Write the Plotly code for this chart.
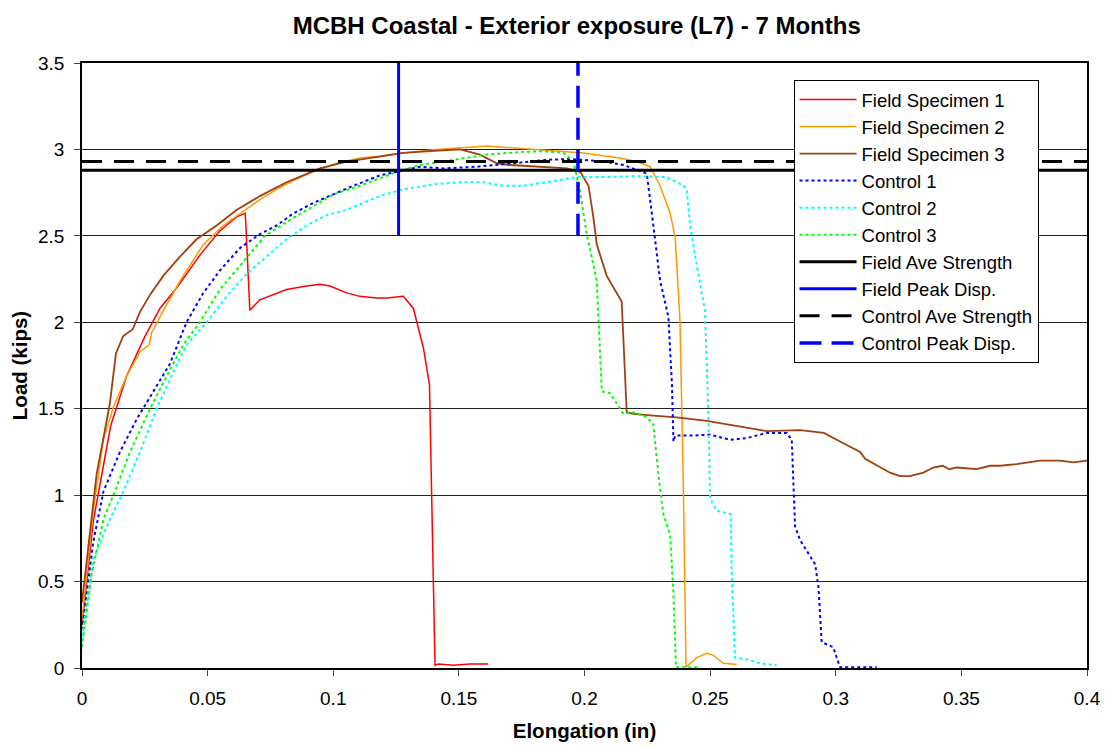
import plotly.graph_objects as go

# ---------------- data ----------------
fs1_x = [0, 0.0045, 0.0114, 0.0178, 0.0251, 0.031, 0.0377, 0.047, 0.0549, 0.0615, 0.065, 0.0668,
         0.0708, 0.0761, 0.0814, 0.0894, 0.0947, 0.0987, 0.1053, 0.1106, 0.1172, 0.1213, 0.1279,
         0.1319, 0.1359, 0.1383, 0.1392, 0.1405, 0.1419, 0.1478, 0.1544, 0.1617]
fs1_y = [0.245, 0.85, 1.40, 1.69, 1.92, 2.08, 2.20, 2.39, 2.53, 2.61, 2.63, 2.07,
         2.13, 2.16, 2.19, 2.21, 2.22, 2.21, 2.17, 2.15, 2.14, 2.14, 2.15,
         2.08, 1.85, 1.64, 1.00, 0.016, 0.023, 0.016, 0.023, 0.023]

fs2_x = [0, 0.0045, 0.0085, 0.0125, 0.0178, 0.0231, 0.0268, 0.0277, 0.031, 0.039, 0.043, 0.0483,
         0.0562, 0.0629, 0.0708, 0.0788, 0.0841, 0.0934, 0.1013, 0.1106, 0.1186, 0.1279, 0.1412,
         0.1611, 0.1704, 0.1810, 0.1995, 0.2141, 0.2208, 0.2261, 0.2301, 0.2341, 0.2361, 0.2380,
         0.2394, 0.2404, 0.2447, 0.2487, 0.2513, 0.2553, 0.2606]
fs2_y = [0.28, 0.91, 1.32, 1.51, 1.69, 1.83, 1.87, 1.94, 2.03, 2.24, 2.33, 2.45,
         2.56, 2.63, 2.71, 2.78, 2.82, 2.88, 2.92, 2.95, 2.96, 2.98, 3.00,
         3.02, 3.01, 3.00, 2.98, 2.95, 2.93, 2.90, 2.79, 2.63, 2.49, 2.01,
         1.00, 0.005, 0.06, 0.085, 0.073, 0.027, 0.02]

fs3_x = [0, 0.0058, 0.0111, 0.0135, 0.0164, 0.0202, 0.0231, 0.0271, 0.0324, 0.039, 0.0456, 0.0536,
         0.0615, 0.0708, 0.0814, 0.0947, 0.1053, 0.1186, 0.1279, 0.1385, 0.1505, 0.1584, 0.1651,
         0.1704, 0.1810, 0.1930, 0.1983, 0.2016, 0.2035, 0.2049, 0.2088, 0.2148, 0.2168, 0.2194,
         0.2274, 0.2367, 0.2487, 0.2606, 0.2726, 0.2858, 0.2953, 0.3030, 0.3097, 0.3117, 0.3176,
         0.3216, 0.3256, 0.3295, 0.3349, 0.3388, 0.3426, 0.3452, 0.3482, 0.3561, 0.3614, 0.3654,
         0.3720, 0.3813, 0.3893, 0.3946, 0.4002]
fs3_y = [0.38, 1.12, 1.53, 1.82, 1.92, 1.96, 2.06, 2.16, 2.27, 2.38, 2.48, 2.56,
         2.65, 2.73, 2.81, 2.89, 2.93, 2.96, 2.98, 2.99, 3.00, 2.97, 2.92,
         2.91, 2.90, 2.89, 2.87, 2.79, 2.61, 2.45, 2.27, 2.12, 1.48, 1.47,
         1.46, 1.45, 1.43, 1.40, 1.37, 1.376, 1.36, 1.30, 1.25, 1.21, 1.16,
         1.13, 1.11, 1.11, 1.13, 1.16, 1.17, 1.15, 1.16, 1.15, 1.17, 1.17,
         1.18, 1.20, 1.20, 1.19, 1.20]

c1_x = [0, 0.0045, 0.0085, 0.0151, 0.0218, 0.0284, 0.035, 0.0416, 0.0483, 0.0549, 0.0629, 0.0708,
        0.0775, 0.0841, 0.0920, 0.1, 0.108, 0.1186, 0.1253, 0.1346, 0.1439, 0.1571, 0.1717,
        0.1850, 0.1943, 0.2075, 0.2155, 0.2248, 0.2274, 0.2301, 0.2334, 0.2348, 0.2354, 0.2361,
        0.2433, 0.2500, 0.2579, 0.2646, 0.2726, 0.2805, 0.2825, 0.2838, 0.2858, 0.2918, 0.2931,
        0.2944, 0.2990, 0.3017, 0.3163]
c1_y = [0.22, 0.73, 1.02, 1.25, 1.44, 1.60, 1.76, 2.00, 2.17, 2.30, 2.43, 2.51,
        2.56, 2.63, 2.69, 2.74, 2.79, 2.85, 2.87, 2.90, 2.89, 2.90, 2.92,
        2.94, 2.945, 2.93, 2.91, 2.86, 2.56, 2.24, 2.03, 1.64, 1.31, 1.345,
        1.345, 1.35, 1.32, 1.33, 1.36, 1.36, 1.32, 0.82, 0.74, 0.60, 0.47,
        0.15, 0.12, 0.005, 0.005]

c2_x = [0, 0.0045, 0.0111, 0.0158, 0.0231, 0.0297, 0.0363, 0.0416, 0.0496, 0.0576, 0.0655, 0.0735,
        0.0814, 0.0894, 0.0973, 0.1053, 0.1186, 0.1279, 0.1412, 0.1492, 0.1598, 0.1677, 0.1757,
        0.1850, 0.1969, 0.2075, 0.2208, 0.2327, 0.2394, 0.2407, 0.2420, 0.2447, 0.2480, 0.2493,
        0.2500, 0.2526, 0.2582, 0.2586, 0.2599, 0.2646, 0.2699, 0.2765]
c2_y = [0.18, 0.63, 0.86, 1.00, 1.25, 1.50, 1.71, 1.87, 2.00, 2.15, 2.28, 2.38,
        2.48, 2.56, 2.62, 2.65, 2.73, 2.77, 2.80, 2.81, 2.81, 2.79, 2.79,
        2.81, 2.84, 2.84, 2.845, 2.84, 2.79, 2.77, 2.56, 2.33, 2.06, 1.46,
        0.98, 0.91, 0.89, 0.54, 0.06, 0.05, 0.027, 0.016]

c3_x = [0, 0.0038, 0.0085, 0.0125, 0.0191, 0.0271, 0.0337, 0.0403, 0.0469, 0.0549, 0.0642, 0.0728,
        0.0814, 0.0894, 0.1, 0.1106, 0.1186, 0.1253, 0.1346, 0.1478, 0.1611, 0.1744, 0.1837,
        0.1916, 0.1956, 0.1983, 0.2009, 0.2049, 0.2059, 0.2069, 0.2102, 0.2128, 0.2155, 0.2195,
        0.2248, 0.2274, 0.2294, 0.2314, 0.2341, 0.2354, 0.2364, 0.2460]
c3_y = [0.12, 0.54, 0.86, 1.00, 1.25, 1.50, 1.69, 1.87, 2.00, 2.19, 2.35, 2.50,
        2.58, 2.65, 2.74, 2.79, 2.835, 2.87, 2.91, 2.94, 2.97, 2.985, 2.99,
        2.98, 2.93, 2.75, 2.51, 2.24, 1.92, 1.60, 1.59, 1.53, 1.47, 1.48,
        1.45, 1.41, 1.12, 0.89, 0.77, 0.43, 0.005, 0.005]

x_range = [0, 0.4]
y_range = [0, 3.5]
field_ave_strength = 2.88
control_ave_strength = 2.93
field_peak_disp = 0.126
control_peak_disp = 0.1974
peak_line_y = [2.5, 3.5]

FONT = "Arial, 'Liberation Sans', Helvetica, sans-serif"

fig = go.Figure()

def add(name, x, y, color, width, dash="solid"):
    fig.add_trace(go.Scatter(x=x, y=y, mode="lines", name=name, legendgroup=name,
                             line=dict(color=color, width=width, dash=dash)))

add("Field Specimen 1", fs1_x, fs1_y, "#FF0000", 1.5)
add("Field Specimen 2", fs2_x, fs2_y, "#FF9900", 1.5)
add("Field Specimen 3", fs3_x, fs3_y, "#A0400F", 1.8)
add("Control 1", c1_x, c1_y, "#0000FF", 2, "3px,3px")
add("Control 2", c2_x, c2_y, "#00FFFF", 2, "3px,3px")
add("Control 3", c3_x, c3_y, "#00FF00", 2, "3px,3px")
add("Field Ave Strength", x_range, [field_ave_strength] * 2, "#000000", 3)
add("Field Peak Disp.", [field_peak_disp] * 2, peak_line_y, "#0000FF", 3)
add("Control Ave Strength", x_range, [control_ave_strength] * 2, "#000000", 3, "20px,12px")
add("Control Peak Disp.", [control_peak_disp] * 2, peak_line_y, "#0000FF", 3.5, "22px,10px")

# page body has an 8px default margin, so the figure is 8px smaller and margins shifted
fig.update_layout(
    width=1100, height=740,
    margin=dict(l=74, r=21, t=55, b=80, autoexpand=False),
    paper_bgcolor="white", plot_bgcolor="white",
    font=dict(family=FONT, size=18.5, color="black"),
    title=dict(text="<b>MCBH Coastal - Exterior exposure (L7) - 7 Months</b>",
               x=0.517, xref="container", xanchor="center",
               y=0.976, yref="container", yanchor="middle",
               font=dict(family=FONT, size=24, color="black")),
    legend=dict(x=0.708, y=0.972, xanchor="left", yanchor="top",
                bgcolor="white", bordercolor="black", borderwidth=1,
                font=dict(family=FONT, size=18.5, color="black"),
                tracegroupgap=0, itemwidth=57),
    showlegend=True,
)

fig.update_xaxes(range=x_range, dtick=0.05, tick0=0, automargin=False,
                 showgrid=False, zeroline=False,
                 showline=True, linecolor="black", linewidth=1.5, mirror=True,
                 ticks="outside", ticklen=6, tickcolor="#444", tickwidth=1,
                 tickfont=dict(size=19), ticklabelstandoff=6,
                 title=dict(text="<b>Elongation (in)</b>", font=dict(size=20.5), standoff=16))
fig.update_yaxes(range=y_range, dtick=0.5, tick0=0, automargin=False,
                 showgrid=True, gridcolor="#222", gridwidth=1, zeroline=False,
                 showline=True, linecolor="black", linewidth=1.5, mirror=True,
                 ticks="outside", ticklen=6, tickcolor="#444", tickwidth=1,
                 tickfont=dict(size=19), ticklabelstandoff=6,
                 title=dict(text="<b>Load (kips)</b>", font=dict(size=20.5), standoff=12))

fig.write_html("out.html")
